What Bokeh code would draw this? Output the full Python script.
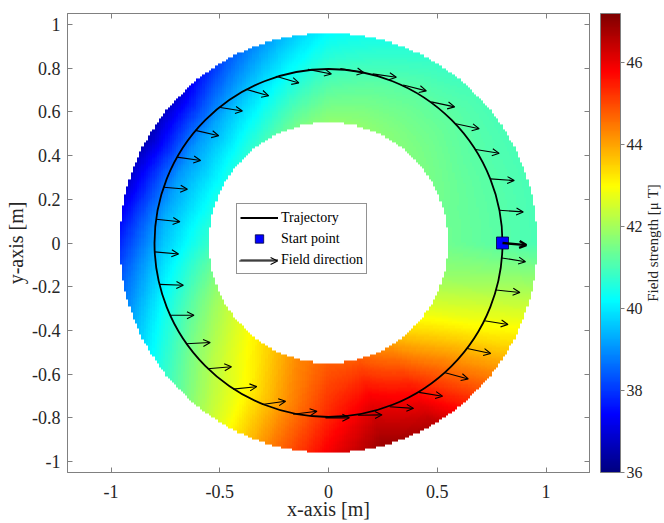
import numpy as np
from bokeh.plotting import figure
from bokeh.layouts import row
from bokeh.models import (LinearColorMapper, ColorBar, FixedTicker, Arrow, OpenHead,
                          ColumnDataSource, Legend, LegendItem, LinearAxis,
                          CustomJSTickFormatter)
from bokeh.embed import file_html
from bokeh.resources import INLINE

# ---------------- data ----------------
# field strength [uT] sampled around the ring, every 15 degrees
field_angles_deg = [0, 15, 30, 45, 60, 75, 90, 105, 120, 135, 150, 165,
                    180, 195, 210, 225, 240, 255, 270, 285, 300, 315, 330, 345]
field_radii = [0.55, 0.755, 0.96]
field_inner = [41.4, 41.4, 41.5, 41.6, 41.7, 41.8, 41.8, 41.5, 41.0, 40.6, 40.4, 40.5,
               40.8, 41.5, 42.2, 42.8, 43.5, 44.3, 44.8, 44.8, 44.2, 43.3, 42.5, 41.8]
field_middle = [41.2, 41.2, 41.2, 41.3, 41.3, 41.2, 41.0, 40.4, 39.7, 39.2, 39.0, 39.2,
                39.6, 40.3, 41.2, 42.2, 43.0, 44.2, 45.3, 46.0, 45.5, 44.3, 43.0, 42.0]
field_outer = [41.0, 41.0, 41.0, 41.0, 40.8, 40.5, 40.2, 39.3, 38.3, 37.0, 36.6, 37.0,
               37.8, 38.8, 40.0, 41.3, 42.8, 44.5, 45.9, 46.9, 46.6, 45.0, 43.5, 42.2]
field_min, field_max = 36.0, 47.2

# trajectory (circle) and start point
traj_radius = 0.8
start_x = [0.8]
start_y = [0.0]

# field-direction arrows: position angle on the trajectory and arrow direction
arrow_pos_deg = [0, 10.8, 21.5, 32.3, 43.0, 53.8, 64.6, 75.3, 86.1, 96.8, 107.6, 118.4,
                 129.1, 139.9, 150.6, 161.4, 172.2, 182.9, 193.7, 204.4, 215.2, 226.0,
                 236.7, 247.5, 258.3, 269.0, 279.8, 290.6, 301.3, 312.1, 322.9, 333.6,
                 344.4, 355.1]
arrow_dir_deg = [-5, -4, -4, -9, -12, -12, -14, -8, -10, -11, -16, -16,
                 -9, -13, -8, -5, -6, -5, -2, 0, 3, 5,
                 6, 8, 7, 0, 1, -4, -9, -15, -12, -9,
                 -6, -9]
arrow_len = 0.11

x_ticks = [-1, -0.5, 0, 0.5, 1]
y_ticks = [-1, -0.8, -0.6, -0.4, -0.2, 0, 0.2, 0.4, 0.6, 0.8, 1]
cbar_ticks = [36, 38, 40, 42, 44, 46]

# ---------------- layout / styling ----------------
FONT = "Liberation Serif"
TEXT = "#262626"
FRAME = "#808080"
W_TOTAL, H = 664, 523
W2 = 19                      # narrow strip that carries the colour-bar title
W = W_TOTAL - W2
BL, BT, BB = 67, 13, 51
BR = W - 590
X_RANGE = (-1.2, 1.2)
Y_RANGE = (-1.05, 1.05)
ppx = (W - BL - BR) / (X_RANGE[1] - X_RANGE[0])
ppy = (H - BT - BB) / (Y_RANGE[1] - Y_RANGE[0])

def px_to_x(px):   # canvas pixel -> data x
    return X_RANGE[0] + (px - BL) / ppx

def px_to_y(py):   # canvas pixel -> data y
    return Y_RANGE[0] + (H - BB - py) / ppy

def jet_palette(n=256):
    out = []
    for i in range(n):
        t = i / (n - 1)
        r = min(max(1.5 - abs(4 * t - 3), 0), 1)
        g = min(max(1.5 - abs(4 * t - 2), 0), 1)
        b = min(max(1.5 - abs(4 * t - 1), 0), 1)
        out.append("#%02x%02x%02x" % (int(round(r * 255)), int(round(g * 255)), int(round(b * 255))))
    return out

# ---------------- field image (grid built from the sampled ring values) ----------------
grid_n = 200
grid_lo, grid_span = -1.0, 2.0
cell = grid_span / grid_n
centers = grid_lo + cell * (np.arange(grid_n) + 0.5)
GX, GY = np.meshgrid(centers, centers)
R = np.hypot(GX, GY)
TH = np.degrees(np.arctan2(GY, GX)) % 360
ring_vals = [np.interp(TH, field_angles_deg, v, period=360)
             for v in (field_inner, field_middle, field_outer)]
img = np.where(R <= field_radii[1],
               ring_vals[0] + (ring_vals[1] - ring_vals[0]) * (R - field_radii[0]) / (field_radii[1] - field_radii[0]),
               ring_vals[1] + (ring_vals[2] - ring_vals[1]) * (R - field_radii[1]) / (field_radii[2] - field_radii[1]))
img = np.where((R >= field_radii[0]) & (R <= field_radii[2]), img, np.nan)

mapper = LinearColorMapper(palette=jet_palette(), low=field_min, high=field_max,
                           nan_color=(255, 255, 255, 0.0))

# ---------------- figure ----------------
p = figure(width=W, height=H, x_range=X_RANGE, y_range=Y_RANGE,
           output_backend="svg", toolbar_location=None,
           min_border_left=BL, min_border_right=BR, min_border_top=BT, min_border_bottom=BB)
p.grid.visible = False
p.outline_line_color = FRAME
p.background_fill_color = "white"
p.border_fill_color = "white"

p.image(image=[img], x=grid_lo, y=grid_lo, dw=grid_span, dh=grid_span, color_mapper=mapper)

p.circle(x=[0], y=[0], radius=traj_radius, fill_color=None,
         line_color="black", line_width=1.8)

pos = np.radians(arrow_pos_deg)
dirs = np.radians(arrow_dir_deg)
x0 = traj_radius * np.cos(pos)
y0 = traj_radius * np.sin(pos)
x1 = x0 + arrow_len * np.cos(dirs)
y1 = y0 + arrow_len * np.sin(dirs)
src = ColumnDataSource(dict(x0=x0[1:], y0=y0[1:], x1=x1[1:], y1=y1[1:]))
p.add_layout(Arrow(source=src, x_start="x0", y_start="y0", x_end="x1", y_end="y1",
                   line_color="black", line_width=1.1,
                   end=OpenHead(size=7, line_color="black", line_width=1.1)))
src0 = ColumnDataSource(dict(x0=x0[:1], y0=y0[:1], x1=x1[:1], y1=y1[:1]))
p.add_layout(Arrow(source=src0, x_start="x0", y_start="y0", x_end="x1", y_end="y1",
                   line_color="black", line_width=2.4,
                   end=OpenHead(size=7, line_color="black", line_width=2.4)))

start_r = p.scatter(x=start_x, y=start_y, marker="square", size=12,
                    fill_color="#0000ff", line_color="#00003a", line_width=0.8)

# legend-only renderers (a single NaN point: nothing drawn in the plot)
traj_dummy = p.line(x=[np.nan], y=[np.nan], line_color="black", line_width=1.8)
dir_dummy = p.line(x=[np.nan], y=[np.nan], line_color="black", line_width=1.1)

# ---------------- axes ----------------
def style_axis(ax, ticks, labels=True):
    ax.ticker = FixedTicker(ticks=ticks)
    ax.axis_line_color = FRAME
    ax.major_tick_line_color = FRAME
    ax.major_tick_in = 5
    ax.major_tick_out = 0
    ax.minor_tick_line_color = None
    ax.major_label_text_font = FONT
    ax.major_label_text_font_size = "18px"
    ax.major_label_text_color = TEXT
    ax.axis_label_text_font = FONT
    ax.axis_label_text_font_size = "20px"
    ax.axis_label_text_font_style = "normal"
    ax.axis_label_text_color = TEXT
    if labels:
        ax.formatter = CustomJSTickFormatter(code="return String(Math.round(tick*10)/10)")
    else:
        ax.formatter = CustomJSTickFormatter(code="return ''")
        ax.major_label_standoff = 0

p.xaxis.axis_label = "x-axis [m]"
p.yaxis.axis_label = "y-axis [m]"
style_axis(p.xaxis[0], x_ticks)
style_axis(p.yaxis[0], y_ticks)
p.xaxis.major_label_standoff = 12
p.xaxis.axis_label_standoff = -3
p.yaxis.major_label_standoff = 7
p.yaxis.axis_label_standoff = 2

top_ax = LinearAxis()
style_axis(top_ax, x_ticks, labels=False)
p.add_layout(top_ax, "above")
right_ax = LinearAxis()
style_axis(right_ax, y_ticks, labels=False)
right_ax.formatter = CustomJSTickFormatter(code="return ' '")   # blank labels keep a gap
right_ax.major_label_standoff = 3
p.add_layout(right_ax, "right")

# ---------------- colour bar ----------------
cb = ColorBar(color_mapper=mapper, ticker=FixedTicker(ticks=cbar_ticks), width=20,
              padding=0, margin=0, bar_line_color=FRAME, major_tick_line_color=FRAME,
              major_tick_in=0, major_tick_out=4, minor_tick_line_color=None,
              major_label_text_font=FONT, major_label_text_font_size="16px",
              major_label_text_color=TEXT, label_standoff=2,
              border_line_color=None, background_fill_color=None)
p.add_layout(cb, "right")

# ---------------- legend ----------------
legend = Legend(items=[LegendItem(label="Trajectory", renderers=[traj_dummy]),
                       LegendItem(label="Start point", renderers=[start_r]),
                       LegendItem(label="Field direction", renderers=[dir_dummy])],
                location=(236 - BL, H - BB - 274), padding=3, spacing=0, margin=0,
                glyph_width=38, glyph_height=21, label_height=21, label_standoff=3,
                label_text_font=FONT, label_text_font_size="14px", label_text_color="black",
                border_line_color="#262626", border_line_width=1,
                background_fill_alpha=0.0)
p.add_layout(legend, "center")
leg_y = px_to_y(274 - 3 - 10.5)
p.add_layout(Arrow(x_start=px_to_x(239), y_start=leg_y, x_end=px_to_x(277.5), y_end=leg_y,
                   line_color="black", line_width=1.1,
                   end=OpenHead(size=7, line_color="black", line_width=1.1)))

# ---------------- strip with the colour-bar title ----------------
p2 = figure(width=W2, height=H, x_range=(0, 1), y_range=(0, 1),
            output_backend="svg", toolbar_location=None,
            min_border_left=18, min_border_right=0, min_border_top=BT, min_border_bottom=BB)
p2.grid.visible = False
p2.outline_line_color = None
p2.xaxis.visible = False
p2.border_fill_color = "white"
p2.background_fill_color = "white"
ya = p2.yaxis[0]
ya.axis_label = "Field strength [μ T]"
ya.axis_label_text_font = FONT
ya.axis_label_text_font_size = "15px"
ya.axis_label_text_font_style = "normal"
ya.axis_label_text_color = TEXT
ya.axis_label_standoff = 0
ya.axis_line_color = None
ya.major_tick_line_color = None
ya.minor_tick_line_color = None
ya.major_tick_in = 0
ya.major_tick_out = 0
ya.major_label_standoff = 0
ya.formatter = CustomJSTickFormatter(code="return ''")

layout = row(p, p2, spacing=0)
open("out.html", "w").write(file_html(layout, INLINE))
